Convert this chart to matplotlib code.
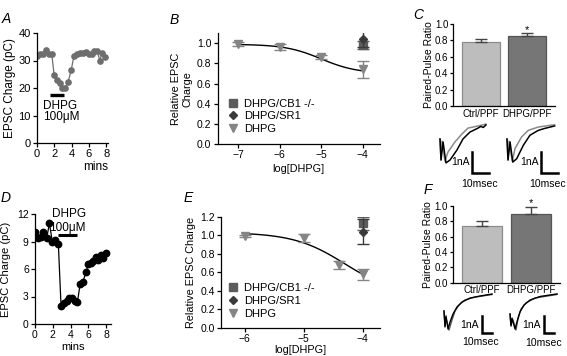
import numpy as np
import matplotlib.pyplot as plt

plt.rcParams['font.family'] = ['Liberation Sans', 'DejaVu Sans']
plt.rcParams['axes.linewidth'] = 0.9
plt.rcParams['xtick.major.width'] = 0.9
plt.rcParams['ytick.major.width'] = 0.9
plt.rcParams['xtick.major.size'] = 3
plt.rcParams['ytick.major.size'] = 3

W, H = 567, 356

# ---- data ----
# A: time course, gray
a_time = [0, 0.35, 0.66, 1.0, 1.36, 1.7, 1.98, 2.3, 2.6, 2.87, 3.2, 3.6, 3.95,
          4.26, 4.6, 4.96, 5.3, 5.65, 5.97, 6.3, 6.6, 6.96, 7.25, 7.5, 7.9]
a_charge = [31.6, 32.3, 32.5, 34.0, 32.5, 32.5, 24.7, 22.9, 21.7, 20.0, 19.9, 22.3, 26.5,
            31.6, 32.5, 32.9, 32.9, 33.0, 32.5, 32.2, 33.5, 33.5, 29.9, 32.8, 31.3]
a_drug = [1.5, 3.1]

# D: time course, black
d_time = [0, 0.3, 0.64, 0.94, 1.32, 1.62, 1.95, 2.26, 2.63, 2.93, 3.27, 3.57, 3.87,
          4.17, 4.47, 4.77, 5.08, 5.38, 5.75, 6.02, 6.32, 6.58, 6.88, 7.14, 7.44, 7.71, 8.0]
d_charge = [10.0, 9.35, 9.45, 10.0, 9.35, 11.0, 9.0, 9.15, 8.7, 2.0, 2.3, 2.5, 2.8,
            2.8, 2.5, 2.35, 4.35, 4.55, 5.7, 6.6, 6.7, 6.9, 7.35, 7.0, 7.5, 7.2, 7.7]
d_drug = [2.63, 4.77]

# B: dose response
b_logc = [-7, -6, -5, -4]
b_dhpg = [0.99, 0.96, 0.86, 0.74]
b_dhpg_err = [0.02, 0.03, 0.02, 0.08]
b_cb1, b_cb1_err = 0.98, 0.04
b_sr1, b_sr1_err = 1.04, 0.08
b_fit = (0.99, 0.70, -5.0, 1.0)   # top, bottom, logEC50, hill

# E: dose response
e_logc = [-6, -5, -4.4, -4]
e_dhpg = [0.99, 0.97, 0.68, 0.58]
e_dhpg_err = [0.01, 0.04, 0.04, 0.06]
e_cb1, e_cb1_err = 1.13, 0.07
e_sr1, e_sr1_err = 1.04, 0.13
e_fit = (1.03, 0.35, -4.3, 1.0)

# C / F: paired-pulse ratio
ppr_names = ['Ctrl/PPF', 'DHPG/PPF']
c_ppr = [0.78, 0.85]
c_err = [0.04, 0.035]
f_ppr = [0.74, 0.89]
f_err = [0.07, 0.10]

# example traces (ms, nA)
c1_gray_t = [0, 0.6, 1.2, 2.9, 4.7, 8.8, 12.9, 16.5, 22.4, 27]
c1_gray_i = [0, -1.0, -0.1, -1.05, -0.62, -0.14, 0.24, 0.52, 0.62, 0.71]
c1_black_t = [0, 0.6, 1.8, 3.5, 5.9, 10, 13.5, 17.6, 22.4, 24, 25.5, 27]
c1_black_i = [0, -1.0, -0.14, -1.14, -1.0, -0.52, 0.0, 0.33, 0.52, 0.6, 0.55, 0.67]
c2_gray_t = [0, 0.6, 1.2, 3.1, 4.7, 8.6, 12.5, 18.4, 28]
c2_gray_i = [0, -1.0, -0.1, -1.05, -0.46, 0.1, 0.41, 0.57, 0.68]
c2_black_t = [0, 0.6, 1.8, 3.4, 5.7, 9.6, 13.5, 18.4, 22, 25, 28]
c2_black_i = [0, -1.0, -0.14, -1.1, -0.94, -0.30, 0.18, 0.41, 0.5, 0.56, 0.62]
f1_a_t = [0, 1, 2, 4, 6, 9, 13, 18, 26, 36, 48]
f1_a_i = [0, -0.94, -0.29, -1.06, -0.65, -0.18, 0.24, 0.53, 0.76, 0.88, 1.0]
f1_b_t = [0, 1, 2, 5, 8, 11, 15, 21, 31, 48]
f1_b_i = [0, -0.88, -0.41, -1.12, -0.53, 0.0, 0.35, 0.65, 0.82, 0.97]
f2_a_t = [0, 1, 2, 5, 7, 10, 14, 20, 30, 47]
f2_a_i = [0, -0.71, -0.24, -0.88, -0.47, 0.12, 0.53, 0.82, 1.03, 1.18]
f2_b_t = [0, 1, 3, 6, 8, 11, 16, 25, 47]
f2_b_i = [0, -0.65, -0.35, -0.94, -0.24, 0.29, 0.65, 0.94, 1.15]

GRAY_A = '#6e6e6e'
TRI = '#858585'
SQ = '#5c5c5c'
DIA = '#3a3a3a'
BAR1, BAR1E = '#bdbdbd', '#8c8c8c'
BAR2, BAR2E = '#767676', '#555555'

fig = plt.figure(figsize=(W / 100, H / 100), dpi=100)


def px_axes(left, top, right, bottom):
    return fig.add_axes([left / W, 1 - bottom / H, (right - left) / W, (bottom - top) / H])


def style(ax, fs):
    for s in ['top', 'right']:
        ax.spines[s].set_visible(False)
    ax.tick_params(labelsize=fs, pad=1.5)


def hill(x, p):
    top, bot, ec, h = p
    return bot + (top - bot) / (1 + 10 ** ((x - ec) * h))


def panel_letter(x, y, s):
    fig.text(x / W, 1 - y / H, s, fontsize=10, style='italic', ha='center', va='center')


# ---- A ----
ax = px_axes(37, 33, 108, 143)
style(ax, 8)
ax.plot(a_time, a_charge, '-o', color=GRAY_A, ms=3.8, lw=0.9)
ax.plot(a_drug, [17.5, 17.5], color='black', lw=2.4, solid_capstyle='butt')
ax.text(0.75, 13.5, 'DHPG', fontsize=8.5, va='center')
ax.text(0.75, 9.3, '100\u03bcM', fontsize=8.5, va='center')
ax.set_xlim(0, 8.2)
ax.set_ylim(0, 40)
ax.set_xticks([0, 2, 4, 6, 8])
ax.set_yticks([0, 10, 20, 30, 40])
ax.set_ylabel('EPSC Charge (pC)', fontsize=8.5, labelpad=2)
ax.set_xlabel('mins', fontsize=8.5, loc='right', labelpad=1)
panel_letter(6, 19, 'A')

# ---- D ----
ax = px_axes(35, 214, 110.5, 324)
style(ax, 7.5)
ax.plot(d_time, d_charge, '-o', color='black', ms=4.6, lw=0.9)
ax.plot(d_drug, [9.75, 9.75], color='black', lw=2.2, solid_capstyle='butt')
ax.text(3.8, 12.0, 'DHPG', fontsize=8.5, ha='center', va='center')
ax.text(3.65, 10.5, '100\u03bcM', fontsize=8.5, ha='center', va='center')
ax.set_xlim(0, 8.5)
ax.set_ylim(0, 12)
ax.set_xticks([0, 2, 4, 6, 8])
ax.set_yticks([0, 3, 6, 9, 12])
ax.set_ylabel('EPSC Charge (pC)', fontsize=8, labelpad=4)
ax.set_xlabel('mins', fontsize=8, labelpad=1)
panel_letter(6, 198, 'D')


# ---- B and E ----
def dose_panel(box, logc, vals, errs, cb1, cb1e, sr1, sr1e, fit, xlim, ylim, yticks, xticks,
               ylab, leg_anchor, fit_range, xpad):
    ax = px_axes(*box)
    style(ax, 7.5)
    xs = np.linspace(fit_range[0], fit_range[1], 100)
    ax.plot(xs, hill(xs, fit), color='black', lw=1.0, zorder=2)
    ax.errorbar([logc[-1]], [cb1], yerr=[cb1e], fmt='s', color=SQ, ms=5.5, capsize=4,
                elinewidth=1, capthick=1, label='DHPG/CB1 -/-', zorder=3)
    ax.errorbar([logc[-1]], [sr1], yerr=[sr1e], fmt='D', color=DIA, ms=4.2, capsize=4,
                elinewidth=1, capthick=1, label='DHPG/SR1', zorder=4)
    ax.errorbar(logc, vals, yerr=errs, fmt='v', color=TRI, ms=6, capsize=4,
                elinewidth=1, capthick=1, label='DHPG', zorder=5)
    ax.set_xlim(*xlim)
    ax.set_ylim(*ylim)
    ax.set_yticks(yticks)
    ax.set_yticklabels(['%.1f' % v for v in yticks])
    ax.set_xticks(xticks)
    ax.set_xticklabels(['\u2212%d' % -v for v in xticks])
    ax.set_ylabel(ylab, fontsize=7.8, labelpad=3)
    ax.set_xlabel('log[DHPG]', fontsize=7.8, labelpad=xpad)
    handles, labels = ax.get_legend_handles_labels()
    handles = [h[0] for h in handles]
    ax.legend(handles, labels, loc='upper left', bbox_to_anchor=leg_anchor, frameon=False,
              fontsize=8, handlelength=1.0, handletextpad=0.5, labelspacing=0.25,
              borderpad=0, borderaxespad=0)
    return ax


dose_panel((217.6, 33.2, 380, 144), b_logc, b_dhpg, b_dhpg_err, b_cb1, b_cb1_err,
           b_sr1, b_sr1_err, b_fit, (-7.5, -3.58), (0, 1.1),
           [0, 0.2, 0.4, 0.6, 0.8, 1.0], [-7, -6, -5, -4], 'Relative EPSC\nCharge',
           (0.06, 0.41), (-7, -4), 3)
panel_letter(174, 20, 'B')

dose_panel((221, 216.7, 380.4, 327.7), e_logc, e_dhpg, e_dhpg_err, e_cb1, e_cb1_err,
           e_sr1, e_sr1_err, e_fit, (-6.4, -3.7), (0, 1.2),
           [0, 0.2, 0.4, 0.6, 0.8, 1.0, 1.2], [-6, -5, -4], 'Relative EPSC Charge',
           (0.04, 0.40), (-6, -4), 0.5)
panel_letter(188, 198, 'E')


# ---- C and F ----
def ppr_panel(box, vals, errs, xlim, width, star_y):
    ax = px_axes(*box)
    style(ax, 7)
    ax.tick_params(axis='y', length=2.5, pad=1)
    x = np.arange(len(vals))
    ax.bar(x, vals, width=width, color=[BAR1, BAR2], edgecolor=[BAR1E, BAR2E], linewidth=0.9)
    ax.errorbar(x, vals, yerr=[np.zeros(len(errs)), errs], fmt='none', ecolor='#444444',
                elinewidth=1, capsize=4, capthick=1)
    ax.text(x[1], star_y, '*', ha='center', va='center', fontsize=8)
    ax.set_xlim(*xlim)
    ax.set_ylim(0, 1.0)
    ax.set_yticks([0, 0.2, 0.4, 0.6, 0.8, 1.0])
    ax.set_yticklabels(['%.1f' % v for v in [0, 0.2, 0.4, 0.6, 0.8, 1.0]])
    ax.set_xticks(x)
    ax.set_xticklabels(ppr_names, fontsize=7)
    ax.tick_params(axis='x', length=0, pad=2)
    ax.set_ylabel('Paired-Pulse Ratio', fontsize=7.5, labelpad=1)
    return ax


ppr_panel((453.3, 24, 555, 106), c_ppr, c_err, (-0.6, 1.61), 0.83, 0.93)
panel_letter(418, 15, 'C')
ppr_panel((453, 206, 560, 282.7), f_ppr, f_err, (-0.59, 1.59), 0.8, 1.04)
panel_letter(428, 190, 'F')


# ---- traces ----
def trace_axes(left, top, right, bottom, ox, oy, px_ms, px_na):
    ax = px_axes(left, top, right, bottom)
    ax.set_xlim((left - ox) / px_ms, (right - ox) / px_ms)
    ax.set_ylim((oy - bottom) / px_na, (oy - top) / px_na)
    ax.axis('off')
    return ax


def scale_bar(ax, x0, y0):
    ax.plot([x0, x0, x0 + 10], [y0 + 1, y0, y0], color='black', lw=1.8,
            solid_joinstyle='miter', clip_on=False)
    return ax


# C left
ax = trace_axes(436, 118, 500, 190, 440, 139, 1.7, 21)
ax.plot(c1_gray_t, c1_gray_i, color='#8a8a8a', lw=1.1)
ax.plot(c1_black_t, c1_black_i, color='black', lw=1.1)
scale_bar(ax, 18.8, -1.62)
ax.text(17.2, -1.08, '1nA', fontsize=7.5, ha='right', va='center')
ax.text(23.0, -2.14, '10msec', fontsize=7.5, ha='center', va='center')
# C right
ax = trace_axes(503, 118, 567, 190, 507, 139, 1.7, 21)
ax.plot(c2_gray_t, c2_gray_i, color='#8a8a8a', lw=1.1)
ax.plot(c2_black_t, c2_black_i, color='black', lw=1.1)
scale_bar(ax, 20.0, -1.62)
ax.text(18.4, -1.08, '1nA', fontsize=7.5, ha='right', va='center')
ax.text(24.0, -2.14, '10msec', fontsize=7.5, ha='center', va='center')
# F left
ax = trace_axes(440, 288, 500, 350, 444, 311, 1.0, 17)
ax.plot(f1_b_t, f1_b_i, color='#555555', lw=1.0)
ax.plot(f1_a_t, f1_a_i, color='black', lw=1.0)
scale_bar(ax, 38, -1.29)
ax.text(35, -0.82, '1nA', fontsize=7.5, ha='right', va='center')
ax.text(37, -1.85, '10msec', fontsize=7.5, ha='center', va='center')
# F right
ax = trace_axes(506, 288, 567, 350, 510, 314, 1.0, 17)
ax.plot(f2_b_t, f2_b_i, color='#555555', lw=1.0)
ax.plot(f2_a_t, f2_a_i, color='black', lw=1.0)
scale_bar(ax, 34, -1.12)
ax.text(31, -0.65, '1nA', fontsize=7.5, ha='right', va='center')
ax.text(34, -1.68, '10msec', fontsize=7.5, ha='center', va='center')

fig.savefig('out.png', dpi=100)
